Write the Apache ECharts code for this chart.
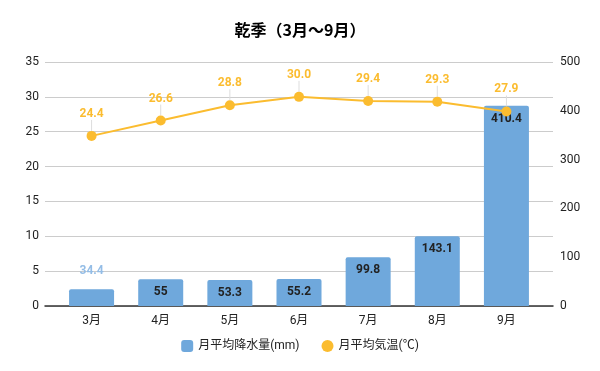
<!DOCTYPE html>
<html><head><meta charset="utf-8">
<script src="https://cdn.jsdelivr.net/npm/echarts@6/dist/echarts.min.js"></script>
<style>html,body{margin:0;padding:0;background:#fff}#c{width:600px;height:371px}</style>
</head><body><div id="c"></div>
<script>
var months = ['3月','4月','5月','6月','7月','8月','9月'];
var rain = [34.4, 55, 53.3, 55.2, 99.8, 143.1, 410.4];
var temp = [24.4, 26.6, 28.8, 30.0, 29.4, 29.3, 27.9];
var leftTicks = [0, 35, 5];
var rightTicks = [0, 500, 100];

var FONT = 'Roboto, "Noto Sans CJK JP", sans-serif';
var BLUE = '#6fa8dc', YEL = '#fbbc2f';
var chart = echarts.init(document.getElementById('c'));
var rainData = rain.map(function(v, i){
  if (i === 0) return {value: v, label: {position: 'top', distance: 12, color: '#94bde6'}};
  return v;
});
chart.setOption({
  animation: false,
  textStyle: {fontFamily: FONT},
  title: {text: '乾季（3月～9月）', left: 'center', top: 17,
    textStyle: {fontSize: 16, fontWeight: 'bold', color: '#000', fontFamily: '"Noto Sans CJK JP", sans-serif'}},
  legend: {bottom: 14, left: 'center', itemWidth: 12, itemHeight: 12, itemGap: 22,
    textStyle: {fontSize: 12, color: '#222', fontFamily: FONT},
    data: [{name: '月平均降水量(mm)', icon: 'roundRect'}, {name: '月平均気温(℃)', icon: 'circle'}]},
  grid: [
    {left: 45, right: 47, top: 62, bottom: 65},
    {left: 57, right: 59, top: 62, bottom: 65}
  ],
  xAxis: [
    {type: 'value', gridIndex: 0, min: 0, max: 1, show: true, axisLabel: {show: false}, axisTick: {show: false},
      splitLine: {show: false}, axisLine: {show: true, lineStyle: {color: '#333', width: 1.5}}},
    {type: 'category', gridIndex: 1, data: months, axisLine: {show: false}, axisTick: {show: false},
      axisLabel: {color: '#222', fontSize: 12, margin: 9}}
  ],
  yAxis: [
    {type: 'value', gridIndex: 0, min: leftTicks[0], max: leftTicks[1], interval: leftTicks[2], position: 'left',
      axisLine: {show: false}, axisTick: {show: false},
      axisLabel: {color: '#222', fontSize: 12, margin: 6},
      splitLine: {lineStyle: {color: '#ccc'}}},
    {type: 'value', gridIndex: 0, min: rightTicks[0], max: rightTicks[1], interval: rightTicks[2], position: 'right',
      axisLine: {show: false}, axisTick: {show: false},
      axisLabel: {color: '#222', fontSize: 12, margin: 7},
      splitLine: {show: false}},
    {type: 'value', gridIndex: 1, min: leftTicks[0], max: leftTicks[1], show: false, splitLine: {show: false}},
    {type: 'value', gridIndex: 1, min: rightTicks[0], max: rightTicks[1], show: false, splitLine: {show: false}}
  ],
  series: [
    {name: '月平均降水量(mm)', type: 'bar', xAxisIndex: 1, yAxisIndex: 3, data: rainData, barWidth: 45,
      itemStyle: {color: BLUE, borderRadius: [2, 2, 0, 0]},
      label: {show: true, position: 'insideTop', distance: 7, color: '#222', fontWeight: 'bold', fontSize: 12}},
    {name: '月平均気温(℃)', type: 'line', xAxisIndex: 1, yAxisIndex: 2, data: temp,
      symbol: 'circle', symbolSize: 10, z: 5,
      lineStyle: {color: YEL, width: 2}, itemStyle: {color: YEL},
      label: {show: true, position: 'top', distance: 2, color: YEL, fontWeight: 'bold', fontSize: 12,
        formatter: function(p){ return p.value.toFixed(1); }},
      labelLayout: {dy: -9},
      labelLine: {show: true, length2: 0, lineStyle: {color: '#ddd', width: 1}}}
  ]
});
</script></body></html>
